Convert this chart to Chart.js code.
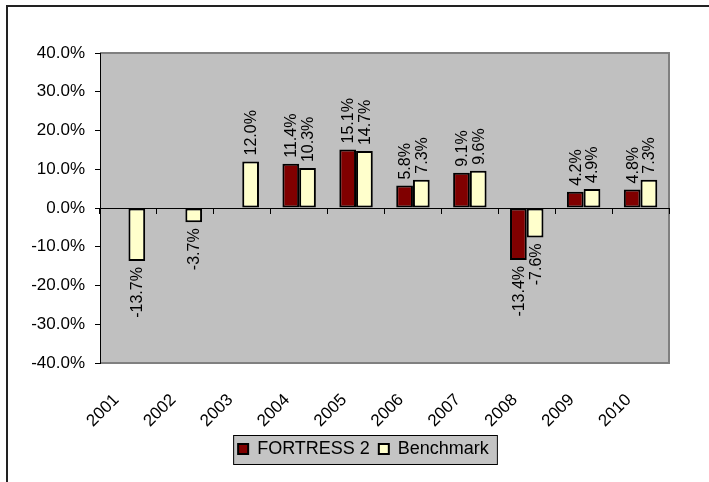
<!DOCTYPE html>
<html>
<head>
<meta charset="utf-8">
<script src="https://cdn.jsdelivr.net/npm/chart.js@4.4.1/dist/chart.umd.min.js"></script>
<style>
  body { margin: 0; background: #fff; }
  #wrap { width: 709px; height: 482px; }
</style>
</head>
<body>
<div id="wrap"><canvas id="chart"></canvas></div>
<script>
// dati del grafico
var years = ['2001', '2002', '2003', '2004', '2005', '2006', '2007', '2008', '2009', '2010'];
var fortressValues = [null, null, null, 11.4, 15.1, 5.8, 9.1, -13.4, 4.2, 4.8];
var benchmarkValues = [-13.7, -3.7, 12.0, 10.3, 14.7, 7.3, 9.6, -7.6, 4.9, 7.3];
var yTicks = [-40, -30, -20, -10, 0, 10, 20, 30, 40];

var fontFamily = "'Liberation Sans', Arial, sans-serif";

// sposta la legenda a destra come nell'originale
var legendShiftPlugin = {
  id: 'legendShift',
  afterLayout: function(chart) {
    var dx = 29;
    var lg = chart.legend;
    lg.left += dx;
    lg.right += dx;
    (lg.legendHitBoxes || []).forEach(function(b) { b.left += dx; });
  }
};

// sfondo, cornice e box della legenda
var framePlugin = {
  id: 'frame',
  beforeDraw: function(chart) {
    var ctx = chart.ctx;
    var a = chart.chartArea;
    ctx.save();
    // cornice esterna (solo lato sinistro e alto visibili)
    ctx.strokeStyle = '#222';
    ctx.lineWidth = 2;
    ctx.beginPath();
    ctx.moveTo(7, chart.height);
    ctx.lineTo(7, 6);
    ctx.lineTo(chart.width, 6);
    ctx.stroke();
    // area del grafico
    ctx.fillStyle = '#c0c0c0';
    ctx.fillRect(a.left, a.top, a.right - a.left, a.bottom - a.top);
    ctx.strokeStyle = '#808080';
    ctx.lineWidth = 2;
    ctx.beginPath();
    ctx.moveTo(a.left, a.top);
    ctx.lineTo(a.right, a.top);
    ctx.lineTo(a.right, a.bottom);
    ctx.lineTo(a.left, a.bottom);
    ctx.stroke();
    // box legenda
    var boxes = chart.legend.legendHitBoxes;
    if (boxes && boxes.length) {
      var first = boxes[0];
      var last = boxes[boxes.length - 1];
      var x0 = first.left - 5;
      var x1 = last.left + last.width + 8;
      var y0 = first.top - 5;
      var y1 = first.top + first.height + 6;
      ctx.fillStyle = '#c4c4c4';
      ctx.fillRect(x0, y0, x1 - x0, y1 - y0);
      ctx.strokeStyle = '#000';
      ctx.lineWidth = 1;
      ctx.strokeRect(x0 + 0.5, y0 + 0.5, x1 - x0, y1 - y0);
    }
    ctx.restore();
  }
};

// etichette ruotate sopra/sotto le barre
var labelsPlugin = {
  id: 'barLabels',
  afterDatasetsDraw: function(chart) {
    var ctx = chart.ctx;
    ctx.save();
    ctx.font = '16px ' + fontFamily;
    ctx.fillStyle = '#000';
    ctx.textBaseline = 'middle';
    chart.data.datasets.forEach(function(ds, i) {
      var meta = chart.getDatasetMeta(i);
      meta.data.forEach(function(bar, j) {
        var v = ds.data[j];
        if (v === null || v === undefined) return;
        var txt = v.toFixed(1) + '%';
        ctx.save();
        if (v >= 0) {
          ctx.translate(bar.x, bar.y - 6);
          ctx.rotate(-Math.PI / 2);
          ctx.textAlign = 'left';
        } else {
          ctx.translate(bar.x, bar.y + 6);
          ctx.rotate(-Math.PI / 2);
          ctx.textAlign = 'right';
        }
        ctx.fillText(txt, 0, 1);
        ctx.restore();
      });
    });
    ctx.restore();
  }
};

var chart = new Chart(document.getElementById('chart'), {
  type: 'bar',
  data: {
    labels: years,
    datasets: [{
      label: 'FORTRESS 2',
      data: fortressValues,
      backgroundColor: '#800000',
      borderColor: '#000',
      borderWidth: 2,
      borderSkipped: false
    }, {
      label: 'Benchmark',
      data: benchmarkValues,
      backgroundColor: '#ffffcc',
      borderColor: '#000',
      borderWidth: 2,
      borderSkipped: false
    }]
  },
  options: {
    responsive: true,
    maintainAspectRatio: false,
    animation: false,
    layout: { padding: { top: 53, left: 0, right: 40, bottom: 14 } },
    datasets: { bar: { barPercentage: 1, categoryPercentage: 0.588 } },
    plugins: {
      tooltip: { enabled: false },
      legend: {
        position: 'bottom',
        labels: {
          color: '#000',
          font: { family: fontFamily, size: 18 },
          boxWidth: 10,
          boxHeight: 10,
          padding: 9
        }
      }
    },
    scales: {
      x: {
        grid: { display: false, drawTicks: false },
        border: { display: false },
        ticks: {
          color: '#000',
          font: { family: fontFamily, size: 17 },
          minRotation: 45,
          maxRotation: 45,
          padding: 27,
          labelOffset: -12
        },
        afterFit: function(scale) { scale.height = 68; }
      },
      x2: {
        type: 'category',
        labels: years,
        position: { y: 0 },
        offset: true,
        grid: { display: true, drawOnChartArea: false, drawTicks: true, tickLength: 5, offset: true, color: '#000' },
        border: { display: true, color: '#000', width: 1 },
        ticks: { display: false }
      },
      y: {
        min: yTicks[0],
        max: yTicks[yTicks.length - 1],
        grid: { drawOnChartArea: false, drawTicks: true, tickLength: 5, tickColor: '#000' },
        border: { display: true, color: '#000', width: 1 },
        ticks: {
          stepSize: yTicks[1] - yTicks[0],
          color: '#000',
          padding: 10,
          font: { family: fontFamily, size: 17 },
          callback: function(v) { return v.toFixed(1) + '%'; }
        },
        afterFit: function(scale) { scale.width = 100; }
      }
    }
  },
  plugins: [legendShiftPlugin, framePlugin, labelsPlugin]
});
</script>
</body>
</html>
